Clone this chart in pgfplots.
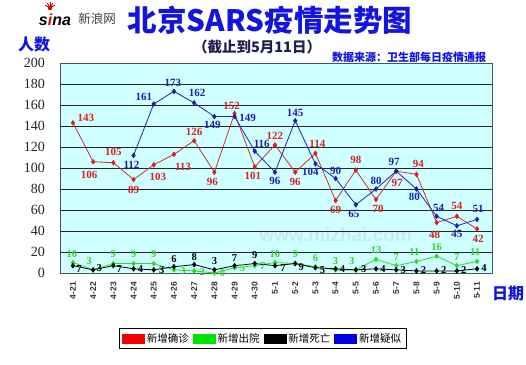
\documentclass[border=0pt]{standalone}
\usepackage{pgfplots}
\pgfplotsset{compat=1.18}
\usepackage{pgfplotstable}
\usepackage{fontspec}
\setmainfont{Liberation Serif}
\newfontfamily\cjk{Noto Sans CJK SC}
\newfontfamily\sans{Liberation Sans}
\newfontfamily\serif{Liberation Serif}
\definecolor{bgc}{RGB}{208,255,255}
\definecolor{rline}{RGB}{200,50,50}
\definecolor{rlab}{RGB}{215,35,35}
\definecolor{bline}{RGB}{30,40,180}
\definecolor{blab}{RGB}{30,30,170}
\definecolor{gline}{RGB}{40,220,40}
\definecolor{glab}{RGB}{50,210,50}
\definecolor{ttl}{RGB}{20,20,225}
\definecolor{navy}{RGB}{30,30,80}
\definecolor{frame}{RGB}{60,90,90}

\pgfplotstableread{
x y dx dy
0 143 13 5
1 106 -4 -13
2 105 0 11
3 89 0 -10
4 103 4 -12
5 113 9 -13
6 126 0 9
7 96 -2 -10
8 152 -3 7
9 101 -2 -9
10 122 0 9
11 96 0 -10
12 114 2 9
13 69 0 -9
14 98 0 10
15 70 2 -9
16 97 1 -12
17 94 2 10
18 48 -2 -12
19 54 0 10
20 42 1 -10
}\redtab
\pgfplotstableread{
x y dx dy
0 10 -1 8
1 3 -4 9
2 9 0 9
3 9 0 9
4 9 0 9
5 3 9 -1
6 2 8 -1
7 0 8 0
8 5 8 0
9 7 8 0
10 10 0 8
11 9 0 9
12 6 0 9
13 3 0 9
14 3 -4 9
15 13 0 9
16 7 0 9
17 11 -2 9
18 16 0 9
19 7 0 9
20 11 -2 9
}\greentab
\pgfplotstableread{
x y dx dy
0 7 6 -3
1 3 6 2
2 7 6 -3
3 4 7 0
4 3 8 0
5 6 0 8
6 8 0 8
7 3 0 9
8 7 0 8
9 9 0 8
10 7 8 -2
11 9 6 -4
12 5 7 -2
13 4 7 0
14 3 8 1
15 4 7 0
16 3 7 0
17 2 7 1
18 2 7 1
19 2 7 1
20 4 7 1
}\blacktab
\pgfplotstableread{
x y dx dy
3 112 -2 -9
4 161 -10 7
5 173 -1 8
6 162 3 10
7 149 -2 -8
8 149 13 -1
9 116 7 7
10 96 0 -9
11 145 0 8
12 104 -5 -8
13 90 0 8
14 65 -2 -9
15 80 0 8
16 97 -2 9
17 80 -2 -8
18 54 2 8
19 45 0 -8
20 51 1 11
}\bluetab

\pgfplotsset{
  lab/.style={
    nodes near coords,
    visualization depends on={\thisrow{dx} \as \dx},
    visualization depends on={\thisrow{dy} \as \dy},
    every node near coord/.append style={anchor=center, xshift=\dx pt, yshift=\dy pt, inner sep=0pt, text=#1},
  },
}

\begin{document}
\begin{tikzpicture}[x=1pt,y=1pt]
\fill[white] (0pt,0pt) rectangle (526pt,364pt);
\begin{axis}[
  at={(60pt,91pt)}, anchor=south west,
  scale only axis, width=432pt, height=210pt,
  xmin=-0.64, xmax=20.74, ymin=0, ymax=200,
  clip=false,
  axis background/.style={fill=bgc},
  axis line style={draw=frame, line width=1pt},
  ymajorgrids, major grid style={draw=black!85, line width=0.8pt},
  ytick={0,20,...,200},
  xtick={0,...,20},
  xticklabels={4-21,4-22,4-23,4-24,4-25,4-26,4-27,4-28,4-29,4-30,5-1,5-2,5-3,5-4,5-5,5-6,5-7,5-8,5-9,5-10,5-11},
  major tick length=0pt,
  /pgf/number format/assume math mode=true,
  yticklabel style={font=\serif\fontsize{14}{14}\selectfont, inner sep=0pt, anchor=east, xshift=-15pt, text=black!85},
  xticklabel style={font=\sans\bfseries\fontsize{8.5}{9}\selectfont, yshift=-9pt, rotate=90, anchor=east, inner sep=0pt, text=black!80},
  legend columns=4,
  legend style={at={(0.469,-0.312)}, anchor=center, draw=black, line width=0.6pt, fill=white,
    font=\cjk\fontsize{10.5}{12}\selectfont, inner xsep=3pt, inner ysep=3pt,
    /tikz/every even column/.append style={column sep=2pt}},
]
\node[font=\sans\bfseries\fontsize{19}{19}\selectfont, text=black, opacity=0.07, inner sep=0pt] at (axis cs:13.0,36) {www.mizhai.com};
\addplot[color=rline, line width=0.8pt, mark=diamond*, mark size=2.2pt, mark options={fill=rlab, draw=rlab},
  lab=rlab, every node near coord/.append style={font=\serif\bfseries\fontsize{11}{11}\selectfont},
  legend image code/.code={\fill[red!95!black] (0pt,-4.5pt) rectangle (22pt,4.5pt);}]
  table[x=x,y=y]{\redtab};
\addlegendentry{新增确诊}
\addplot[color=gline, line width=0.8pt, mark=diamond*, mark size=2.2pt, mark options={fill=gline, draw=gline},
  lab=glab, every node near coord/.append style={font=\serif\bfseries\fontsize{10.5}{11}\selectfont},
  legend image code/.code={\fill[green!90!black] (0pt,-4.5pt) rectangle (22pt,4.5pt);}]
  table[x=x,y=y]{\greentab};
\addlegendentry{新增出院}
\addplot[color=black, line width=0.8pt, mark=diamond*, mark size=2.2pt, mark options={fill=black, draw=black},
  lab=black, every node near coord/.append style={font=\serif\bfseries\fontsize{10.5}{11}\selectfont},
  legend image code/.code={\fill[black] (0pt,-4.5pt) rectangle (22pt,4.5pt);}]
  table[x=x,y=y]{\blacktab};
\addlegendentry{新增死亡}
\addplot[color=bline, line width=0.8pt, mark=diamond*, mark size=2.2pt, mark options={fill=blab, draw=blab},
  lab=blab, every node near coord/.append style={font=\serif\bfseries\fontsize{11}{11}\selectfont},
  legend image code/.code={\fill[blue!90!black] (0pt,-4.5pt) rectangle (22pt,4.5pt);}]
  table[x=x,y=y]{\bluetab};
\addlegendentry{新增疑似}
\end{axis}
% titles and labels
\node[font=\cjk\bfseries\fontsize{29.5}{30}\selectfont, text=ttl, inner sep=0pt] at (270pt,344pt) {北京SARS疫情走势图};
\node[font=\cjk\bfseries\fontsize{14.5}{15}\selectfont, text=navy, inner sep=0pt] at (257pt,317pt) {（截止到5月11日）};
\node[font=\cjk\bfseries\fontsize{11}{11}\selectfont, text=ttl, inner sep=0pt] at (409pt,307pt) {数据来源：卫生部每日疫情通报};
\node[font=\cjk\bfseries\fontsize{16}{16}\selectfont, text=ttl, inner sep=0pt] at (34pt,320pt) {人数};
\node[font=\cjk\bfseries\fontsize{16}{16}\selectfont, text=ttl, inner sep=0pt] at (508pt,70pt) {日期};
% logo
\node[font=\sans\bfseries\itshape\fontsize{16}{16}\selectfont, inner sep=0pt] at (55pt,344pt) {s\textcolor{red!85!black}{i}na};
\fill[red!85!black] (50pt,356pt) circle (2.2pt);
\foreach \a in {30,60,90,120,150} \draw[red!85!black, line width=0.9pt] (50pt,356pt) -- ++(\a:5.5pt);
\node[font=\cjk\fontsize{12.5}{13}\selectfont, text=black!75, inner sep=0pt] at (97pt,345pt) {新浪网};
\pgfresetboundingbox
\useasboundingbox (0pt,0pt) rectangle (526pt,364pt);
\end{tikzpicture}
\end{document}
